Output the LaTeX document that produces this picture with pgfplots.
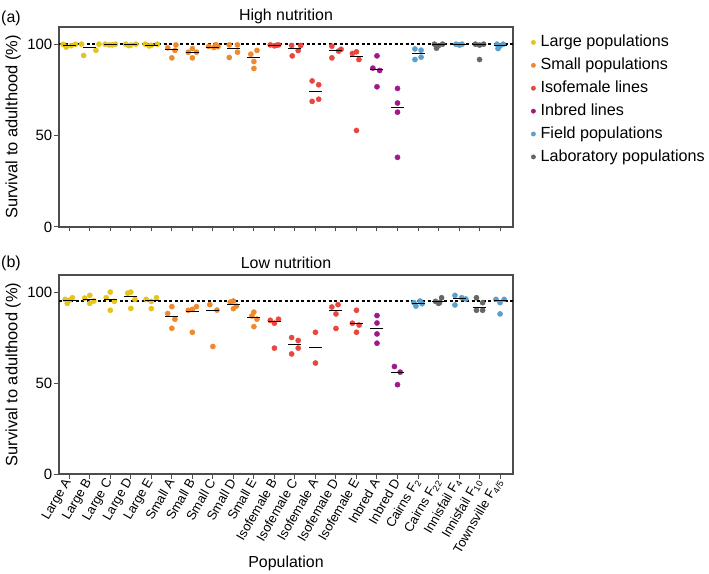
\documentclass[border=0pt]{standalone}
\usepackage{pgfplots}
\pgfplotsset{compat=1.18}
\usepackage{fontspec}
\setmainfont{Liberation Sans}
\definecolor{cL}{HTML}{E6C419}
\definecolor{cS}{HTML}{EE8A2D}
\definecolor{cI}{HTML}{E8473F}
\definecolor{cB}{HTML}{A0198A}
\definecolor{cF}{HTML}{5AA0CD}
\definecolor{cG}{HTML}{666666}
\definecolor{axiscol}{HTML}{4D4D4D}
\pgfplotsset{
  panel/.style={
    scale only axis, width=454bp, xmin=-0.5, xmax=21.63, ymin=0, ymax=109.4,
    ytick={0,50,100}, xtick={0,...,21}, tick align=outside, tick pos=left,
    major tick length=4.5bp, every tick/.style={axiscol, line width=1bp},
    axis line style={axiscol, line width=1.2bp},
    /pgf/number format/assume math mode=true,
    yticklabel style={font=\fontsize{15}{15}\selectfont, inner sep=2bp},
    ylabel={Survival to adulthood (\%)},
    ylabel style={at={(axis description cs:-0.1013,0.5)}, anchor=center, rotate=0, font=\fontsize{16.5}{16.5}\selectfont},
    title style={at={(axis description cs:0.5,1)}, anchor=base, yshift=0.7bp, font=\fontsize{16}{16}\selectfont},
  },
  dots/.style={only marks, mark=*, mark size=2.6bp, mark options={fill=#1, draw=#1}},
  med/.style={only marks, mark=-, mark size=6.5bp, mark options={black, line width=1bp}, forget plot},
  ref/.style={black, line width=1.5bp, dash pattern=on 3bp off 2.5bp, forget plot},
}
\begin{document}
\begin{tikzpicture}
\path[use as bounding box] (0,0) rectangle (709bp,574bp);
% ---------- (a) High nutrition ----------
\begin{axis}[panel, at={(59bp,347bp)}, anchor=south west, height=200bp,
  title={High nutrition}, xticklabels={},
  legend cell align=left,
  legend image code/.code={\draw[#1, mark size=2.2bp] plot coordinates {(0bp,0bp)};},
  legend style={at={(axis description cs:1,1)}, anchor=north west, xshift=15bp, yshift=-4bp,
    draw=none, fill=none, font=\fontsize{16.2}{16.2}\selectfont, row sep=4.4bp, column sep=3bp,
    nodes={inner sep=2bp, text height=11.5bp, text depth=3bp}},
]
\addplot[ref] coordinates {(-0.5,100) (21.63,100)};
\addplot[dots=cL] coordinates {
(-0.3,99.9) (0.3,99.9) (-0.15,98.4) (0.1,99.2)
(0.6,100) (1.45,100) (1.3,96.6) (0.7,93.8)
(1.75,100) (2.25,100) (1.95,99.6) (2.1,99.6)
(2.75,100) (3.25,100) (3,99.5) (2.9,99.2)
(3.7,100) (4.3,100) (4,99.4) (3.9,99.0)};
\addlegendentry{Large populations}
\addplot[dots=cS] coordinates {
(4.8,98) (5.2,99.6) (5.15,96.6) (5,92.5)
(6,97.6) (5.8,95.6) (6.2,95.6) (6,92.5)
(6.8,98.8) (7.15,99.7) (7.05,98.2) (7.25,98.6)
(7.8,99.6) (8.2,99.6) (8.2,95.6) (7.8,92.7)
(8.85,94.5) (9.15,96.6) (9,90.5) (9,86.7)};
\addlegendentry{Small populations}
\addplot[dots=cI] coordinates {
(9.8,99.6) (10.2,99.6) (10,99.1) (10.1,99.4)
(10.84,99.3) (11.28,99.3) (11.16,96.5) (10.87,93.6)
(11.84,79.9) (12.16,77.8) (12.16,69.9) (11.84,68.7)
(12.8,98.9) (13.25,97.2) (13.13,96.2) (12.8,92.5)
(13.8,94.9) (14,95.8) (14.12,91.6) (14,52.8)};
\addlegendentry{Isofemale lines}
\addplot[dots=cB] coordinates {
(15,93.6) (14.8,86.9) (15.13,85.6) (15,76.7)
(16,75.8) (16,67.8) (16,62.8) (16,38.1)};
\addlegendentry{Inbred lines}
\addplot[dots=cF] coordinates {
(16.85,97.4) (17.15,96.7) (17.15,92.9) (16.85,91.6)
(18.85,100) (19.15,100) (19,99.6) (19.05,99.6)
(20.85,100) (21.15,100) (21,99) (20.9,97.6)};
\addlegendentry{Field populations}
\addplot[dots=cG] coordinates {
(17.8,100) (18.2,100) (18,99.2) (17.9,97.8)
(19.8,100) (20.2,100) (20,99.5) (20,91.6)};
\addlegendentry{Laboratory populations}
\addplot[med] coordinates {
(0,99.5) (1,98.3) (2,99.8) (3,99.6) (4,99.5) (5,97.3) (6,95.6) (7,98.4) (8,97.6) (9,92.6)
(10,99.5) (11,97.6) (12,73.85) (13,96.5) (14,93.25) (15,86.3) (16,65.3) (17,94.8) (18,99.6)
(19,99.8) (20,99.75) (21,99.5)};
\end{axis}
% ---------- (b) Low nutrition ----------
\begin{axis}[panel, at={(59bp,100bp)}, anchor=south west, height=199bp,
  title={Low nutrition},
  xticklabels={Large A, Large B, Large C, Large D, Large E, Small A, Small B, Small C, Small D, Small E,
    Isofemale B, Isofemale C, Isofemale A, Isofemale D, Isofemale E, Inbred A, Inbred D,
    Cairns F\textsubscript{2}, Cairns F\textsubscript{22}, Innisfail F\textsubscript{4},
    Innisfail F\textsubscript{10}, Townsville F\textsubscript{4/5}},
  xticklabel style={rotate=60, anchor=east, font=\fontsize{13}{13}\selectfont, inner sep=1.5bp},
  xlabel={Population},
  xlabel style={at={(axis description cs:0.5,0)}, anchor=base, yshift=-93.3bp, font=\fontsize{16}{16}\selectfont},
]
\addplot[ref] coordinates {(-0.5,95.1) (21.63,95.1)};
\addplot[dots=cL] coordinates {
(-0.2,96) (0.15,96.9) (0,95.5) (-0.1,93.8)
(0.75,96.7) (1,98.2) (1.2,95.1) (1,93.8)
(1.8,96.9) (2,100) (2.2,94.9) (2,90)
(2.85,99.4) (3,100) (3.2,96) (3,91)
(3.75,96) (4.25,96.9) (4,94.9) (4,90.9)};
\addplot[dots=cS] coordinates {
(5,92) (4.8,88.2) (5.15,85.1) (5,80.1)
(6.2,92) (6,90.5) (5.8,90) (6,77.9)
(6.85,93.1) (7.2,90.1) (7,70.1)
(7.85,94.5) (8,95.1) (8.15,92.3) (8,90.9)
(9,89) (8.9,86.9) (9.15,85.1) (9,81)};
\addplot[dots=cI] coordinates {
(9.8,84.5) (10,82.9) (10.2,85.1) (10,69.2)
(10.84,75) (11.16,73.4) (11.16,69.2) (10.84,66)
(12,77.9) (12,61)
(12.8,91.8) (13.1,93.1) (13,88) (13,80)
(14,90) (13.8,82.9) (14.13,81.9) (14,77.9)};
\addplot[dots=cB] coordinates {
(15,87.1) (15,83) (15,77) (15,71.9)
(15.85,59.1) (16.13,56) (16,49.1)};
\addplot[dots=cF] coordinates {
(16.8,94.2) (17.1,95.1) (17.2,93.6) (16.9,92.3)
(18.8,98.2) (19.13,96.9) (19.33,96.2) (18.8,92.9)
(20.8,96) (21.2,96) (21,94.2) (21,88)};
\addplot[dots=cG] coordinates {
(17.85,94.9) (18.15,96.9) (18,93.8) (18.05,94.2)
(19.85,96.9) (20.15,94.2) (19.85,90) (20.15,90)};
\addplot[med] coordinates {
(0,95.6) (1,95.8) (2,95.8) (3,97.5) (4,95.3) (5,86.5) (6,89.6) (7,90.1) (8,93.1) (9,86.1)
(10,83.6) (11,71.2) (12,69.5) (13,89.8) (14,82.5) (15,80) (16,56) (17,93.6) (18,94.7)
(19,96.4) (20,91.8) (21,95.3)};
\end{axis}
\node[anchor=base west, font=\fontsize{16}{16}\selectfont, inner sep=0pt] at (1bp,551.3bp) {(a)};
\node[anchor=base west, font=\fontsize{16}{16}\selectfont, inner sep=0pt] at (1bp,306.3bp) {(b)};
\end{tikzpicture}
\end{document}
